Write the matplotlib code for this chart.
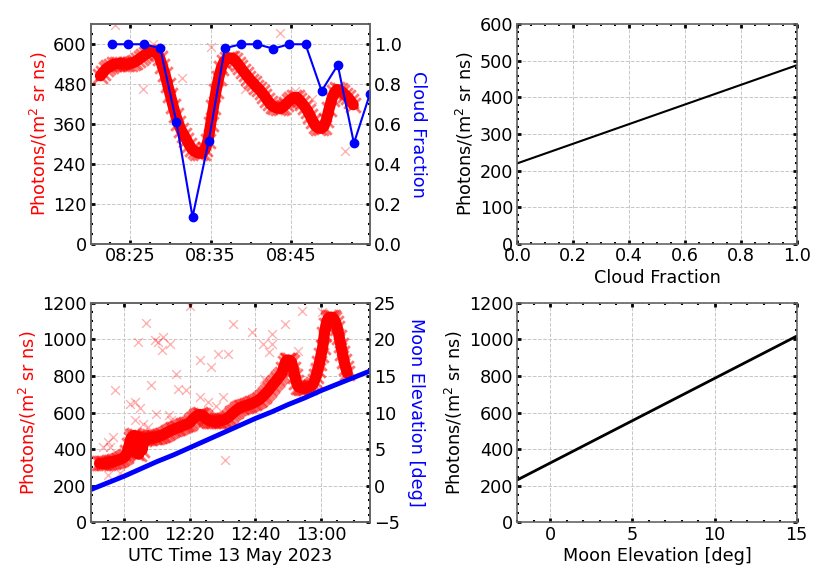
import matplotlib
matplotlib.use('Agg')
import matplotlib.pyplot as plt
import matplotlib.dates as mdates
from matplotlib.ticker import AutoMinorLocator, MultipleLocator
import pandas as pd

plt.rcParams['font.family'] = ['DejaVu Sans']
plt.rcParams['font.size'] = 12.7
plt.rcParams['xtick.major.pad'] = 2.5
plt.rcParams['ytick.major.pad'] = 3
plt.rcParams['axes.labelpad'] = 2.5

# ---- top panel data: 13 May 2023, 08:20 - 08:55 UTC ----
# photon counts sampled every 20 s from 08:21:20
cloud_photons = [
    505, 515, 525, 531, 536, 540, 541, 542, 541, 540,
    540, 542, 544, 548, 553, 559, 565, 571, 576, 579,
    580, 575, 560, 535, 510, 478, 447, 415, 386, 362,
    342, 328, 313, 298, 285, 278, 274, 272, 273, 285,
    310, 360, 410, 460, 500, 530, 548, 556, 559, 558,
    552, 542, 531, 520, 510, 500, 490, 482, 472, 465,
    455, 445, 433, 422, 414, 410, 408, 407, 412, 420,
    428, 435, 440, 440, 432, 422, 412, 400, 385, 368,
    354, 348, 347, 352, 372, 405, 435, 455, 464, 462,
    456, 448, 440, 430, 418,
]
cloud_photon_start = '2023-05-13 08:21:20'

# stray photon readings
cloud_stray_times = ['08:23:08', '08:26:34', '08:27:53', '08:31:24', '08:35:00',
                     '08:39:16', '08:43:36', '08:45:27', '08:47:30', '08:51:39']
cloud_stray_vals = [658, 466, 602, 497, 591, 466, 633, 459, 434, 279]

# cloud fraction every 2 min from 08:22:45
cloud_fraction = [1.0, 1.0, 1.0, 0.98, 0.61, 0.134, 0.514, 0.98, 1.0,
                  1.0, 0.978, 1.0, 1.0, 0.766, 0.896, 0.504, 0.753]
cloud_start = '2023-05-13 08:22:45'

# fit photons vs cloud fraction
cf_fit_x = [0.0, 1.0]
cf_fit_y = [220, 488]

# ---- bottom panel data: 11:50 - 13:15 UTC ----
# photon counts sampled every 30 s from 11:52:30
moon_photons = [
    322, 322, 323, 324, 325, 326, 328, 330, 332, 334,
    337, 339, 342, 346, 350, 355, 365, 385, 420, 455,
    470, 475, 380, 470, 372, 465, 395, 455, 460, 462,
    462, 463, 464, 465, 466, 468, 470, 472, 476, 480,
    485, 490, 495, 500, 504, 508, 512, 515, 518, 522,
    526, 530, 533, 536, 540, 545, 555, 565, 573, 580,
    586, 590, 588, 585, 575, 565, 560, 555, 553, 552,
    552, 552, 553, 555, 556, 558, 561, 565, 571, 578,
    586, 595, 602, 610, 617, 624, 628, 632, 635, 638,
    641, 644, 647, 650, 654, 658, 663, 668, 676, 684,
    693, 702, 712, 722, 734, 745, 756, 767, 778, 790,
    801, 813, 840, 870, 885, 888, 885, 876, 840, 800,
    765, 742, 738, 735, 735, 735, 736, 738, 741, 745,
    755, 775, 800, 835, 870, 915, 960, 1030, 1080, 1110,
    1120, 1122, 1120, 1110, 1090, 1060, 1015, 970, 925, 880,
    845, 815,
]
moon_photon_start = '2023-05-13 11:52:30'

moon_stray_times = [
    '12:20:06', '12:06:48', '12:04:18', '12:09:18', '12:10:24', '12:11:54',
    '12:13:54', '12:11:24', '12:15:54', '12:08:18', '11:57:12', '12:16:24',
    '12:19:00', '12:01:42', '12:03:12', '12:04:48', '12:23:00', '12:26:36',
    '12:28:36', '12:31:42', '12:33:18', '12:23:06', '12:25:36', '12:28:06',
    '12:30:12', '12:30:45', '12:03:18', '12:05:48', '12:07:18', '12:09:48',
    '12:13:48', '12:14:24', '11:55:06', '11:56:36', '11:55:36', '11:55:00',
    '11:58:42', '12:38:54', '12:42:24', '12:45:00', '12:44:00', '12:45:06',
    '12:49:00', '12:53:06', '12:54:06', '13:00:12', '12:42:30', '12:37:54',
    '12:57:42', '11:53:42',
]
moon_stray_vals = [
    1185, 1089, 985, 994, 985, 1013,
    976, 940, 813, 749, 725, 731,
    725, 649, 658, 627, 885, 849,
    922, 922, 1085, 685, 658, 634,
    685, 340, 558, 536, 522, 594,
    585, 558, 440, 467, 413, 258,
    267, 1040, 976, 1031, 931, 976,
    1085, 936, 1154, 1149, 785, 667,
    840, 413,
]

# moon elevation every 5 min
elev_times = ['11:50', '11:55', '12:00', '12:05', '12:10', '12:15', '12:20', '12:25', '12:30',
              '12:35', '12:40', '12:45', '12:50', '12:55', '13:00', '13:05', '13:10', '13:15']
elev_deg = [-0.5, 0.4, 1.3, 2.3, 3.3, 4.2, 5.2, 6.2, 7.2,
            8.2, 9.2, 10.1, 11.1, 12.0, 13.0, 13.9, 14.8, 15.7]

# fit photons vs moon elevation
me_fit_x = [-2.0, 15.0]
me_fit_y = [232, 1018]

day = '2023-05-13 '
ylab = r'Photons/(m$^2$ sr ns)'


def style(ax, right=True):
    ax.minorticks_on()
    ax.tick_params(which='both', direction='in', top=True, right=right)
    ax.tick_params(which='major', length=3, width=2)
    ax.tick_params(which='minor', length=1.5, width=1.5)
    for s in ax.spines.values():
        s.set_color('0.4')
        s.set_linewidth(1.2)
    ax.grid(True, which='major', linestyle='--', color='0.78', linewidth=0.7)
    ax.set_axisbelow(True)


def style_twin(ax2):
    ax2.tick_params(which='both', direction='in', right=True, left=False, top=False)
    ax2.tick_params(which='major', length=3, width=2)
    ax2.tick_params(which='minor', length=1.5, width=1.5)
    for s in ax2.spines.values():
        s.set_color('0.4')
        s.set_linewidth(1.2)


def photons(ax, t, vals, st, sv):
    # dense red cloud of counts: thick core plus x markers, stray points faint
    ax.scatter(pd.to_datetime([day + x for x in st]), sv,
               marker='x', s=40, color='red', alpha=0.3, linewidths=1)
    ax.plot(t, vals, color='red', linewidth=8, solid_joinstyle='round',
            solid_capstyle='round')
    ax.scatter(t, vals, marker='x', s=110, color='red', alpha=0.55, linewidths=2)


fig, axs = plt.subplots(2, 2, figsize=(8.3, 5.81), dpi=100)
fig.subplots_adjust(left=0.1093, right=0.9599, top=0.9582, bottom=0.101,
                    wspace=0.5274, hspace=0.2688)

# top left
ax = axs[0, 0]
t_ph = pd.date_range(cloud_photon_start, periods=len(cloud_photons), freq='20s')
photons(ax, t_ph, cloud_photons, cloud_stray_times, cloud_stray_vals)
ax.set_ylim(0, 660)
ax.yaxis.set_major_locator(MultipleLocator(120))
ax.set_xlim(pd.Timestamp(day + '08:20:08'), pd.Timestamp(day + '08:54:45'))
ax.xaxis.set_major_locator(mdates.MinuteLocator(byminute=range(5, 60, 10)))
ax.xaxis.set_major_formatter(mdates.DateFormatter('%H:%M'))
ax.set_ylabel(ylab, color='red')
style(ax, right=False)
ax.xaxis.set_minor_locator(AutoMinorLocator(4))

ax2 = ax.twinx()
t_cf = pd.date_range(cloud_start, periods=len(cloud_fraction), freq='2min')
ax2.plot(t_cf, cloud_fraction, color='blue', marker='o', markersize=6, linewidth=1.5)
ax2.set_ylim(0, 1.1)
ax2.yaxis.set_major_locator(MultipleLocator(0.2))
ax2.yaxis.set_minor_locator(AutoMinorLocator(4))
style_twin(ax2)
ax2.set_ylabel('Cloud Fraction', color='blue', rotation=270, va='bottom', labelpad=5)

# top right
ax = axs[0, 1]
ax.plot(cf_fit_x, cf_fit_y, color='black', linewidth=1.5)
ax.set_xlim(0, 1)
ax.set_ylim(0, 600)
ax.set_xlabel('Cloud Fraction')
ax.set_ylabel(ylab)
style(ax)

# bottom left
ax = axs[1, 0]
t_mp = pd.date_range(moon_photon_start, periods=len(moon_photons), freq='30s')
photons(ax, t_mp, moon_photons, moon_stray_times, moon_stray_vals)
ax.set_ylim(0, 1200)
ax.yaxis.set_major_locator(MultipleLocator(200))
t_el = pd.to_datetime([day + t for t in elev_times])
ax.set_xlim(pd.Timestamp(day + '11:49:50'), pd.Timestamp(day + '13:14:55'))
ax.xaxis.set_major_locator(mdates.MinuteLocator(byminute=[0, 20, 40]))
ax.xaxis.set_major_formatter(mdates.DateFormatter('%H:%M'))
ax.set_ylabel(ylab, color='red')
ax.set_xlabel('UTC Time 13 May 2023')
style(ax, right=False)
ax.xaxis.set_minor_locator(AutoMinorLocator(4))

ax2 = ax.twinx()
ax2.plot(t_el, elev_deg, color='blue', linewidth=3.5)
ax2.set_ylim(-5, 25)
ax2.yaxis.set_major_locator(MultipleLocator(5))
ax2.yaxis.set_minor_locator(AutoMinorLocator(5))
style_twin(ax2)
ax2.set_ylabel('Moon Elevation [deg]', color='blue', rotation=270, va='bottom', labelpad=5)

# bottom right
ax = axs[1, 1]
ax.plot(me_fit_x, me_fit_y, color='black', linewidth=2)
ax.set_xlim(-2, 15)
ax.set_ylim(0, 1200)
ax.xaxis.set_major_locator(MultipleLocator(5))
ax.set_xlabel('Moon Elevation [deg]')
ax.set_ylabel(ylab)
style(ax)

fig.savefig('out.png', dpi=100)
